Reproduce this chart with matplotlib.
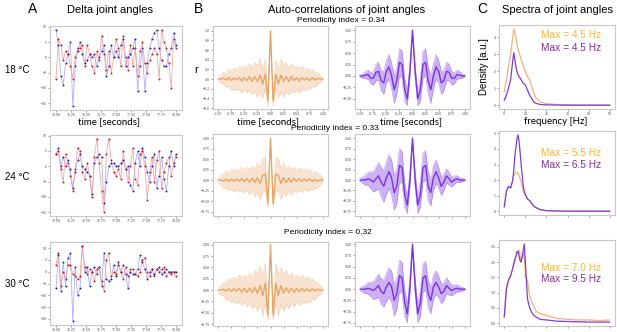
import matplotlib
matplotlib.use('Agg')
import matplotlib.pyplot as plt

# ---------------- data ----------------
temps = ["18 °C", "24 °C", "30 °C"]
periodicity = ["0.34", "0.33", "0.32"]
max_orange = ["4.5", "5.5", "7.0"]
max_purple = ["4.5", "6.5", "9.5"]

t_grid = [76.00, 76.04, 76.08, 76.12, 76.16, 76.20, 76.24, 76.28, 76.32, 76.36,
          76.40, 76.44, 76.48, 76.52, 76.56, 76.60, 76.64, 76.68, 76.72, 76.76,
          76.80, 76.84, 76.88, 76.92, 76.96, 77.00, 77.04, 77.08, 77.12, 77.16,
          77.20, 77.24, 77.28, 77.32, 77.36, 77.40, 77.44, 77.48, 77.52, 77.56,
          77.60, 77.64, 77.68, 77.72, 77.76, 77.80, 77.84, 77.88, 77.92, 77.96, 78.00]

red_18 = [-7, 6, 4, -1, 2, 1, -3, -7, 0, 3, 3, 4, -3, 4, 1, -3, -5, 2, -1, 7,
          1, -4, 2, -5, 0, 6, 3, -3, 7, 0, -4, 4, -3, 3, -6, 2, 5, -2, -5, -1,
          1, 3, 1, -7, 9, 5, 3, -2, -10, 6, 3]
blue_18 = [9, 4, -6, -9, -2, 1, 5, -16, -3, 2, 5, 1, -2, -1, 1, 0, 1, -3, 0, 2,
           4, -6, -3, 4, 0, 2, 0, 4, 6, -3, 0, 1, 3, 6, -11, -3, 3, -11, -2, 3,
           6, 8, 9, 3, -1, -3, -3, 1, 3, 8, 4]
red_24 = [4, 5, -1, -5, 4, 1, -3, -8, -1, 6, 5, -2, -4, 1, -3, -10, 3, 9, 1, -8,
          -15, 4, 9, 2, -2, -3, -1, -4, 5, -1, -5, 0, 6, -4, -6, 4, 5, 0, -11, -2,
          3, -5, 2, 5, -7, -2, 1, 3, -3, 1, 3]
blue_24 = [4, 6, 0, 3, 0, 2, -1, -7, -2, 2, 4, 0, -1, -2, -3, -9, 1, 3, 4, 3,
           -12, -5, 0, 1, 1, 0, 0, 1, 2, -1, 0, -6, -8, 1, 5, 0, 6, 3, -2, -5,
           0, 4, -7, -3, 3, -4, -8, 0, 5, 0, 4]
red_30 = [3, 8, -6, 0, -3, 3, 3, -1, -2, -3, -2, 11, 2, -1, 1, 0, -4, 1, 2, -4,
          -8, 5, 8, -2, 0, -1, 3, 0, -3, 2, -2, 1, 1, -1, -2, 0, 5, 6, 0, -2,
          1, -2, 1, 0, 1, 2, -2, 0, -1, 0, -2]
blue_30 = [-7, 7, -8, 4, -6, 6, 8, -21, 2, -10, -7, 11, 0, 2, -6, 0, 2, -1, 2, -6,
           8, -3, -4, -3, 3, -2, 4, 0, 3, -1, -7, 0, -1, -1, 1, 7, 4, 1, -3, 0,
           1, -1, 1, 2, -1, 0, 1, 0, 0, 0, 0]

lags = [-1.00, -0.95, -0.90, -0.85, -0.80, -0.75, -0.70, -0.65, -0.60, -0.55,
        -0.50, -0.45, -0.40, -0.35, -0.30, -0.25, -0.20, -0.15, -0.10, -0.05,
        0.00, 0.05, 0.10, 0.15, 0.20, 0.25, 0.30, 0.35, 0.40, 0.45,
        0.50, 0.55, 0.60, 0.65, 0.70, 0.75, 0.80, 0.85, 0.90, 0.95, 1.00]

ac_or_mean_18 = [0.0, 0.0, 0.02, -0.02, 0.03, -0.03, 0.02, -0.02, 0.03, -0.04,
                 0.03, -0.03, 0.05, -0.05, 0.05, -0.05, 0.08, -0.10, 0.10, -0.45,
                 1.0,
                 -0.45, 0.10, -0.10, 0.08, -0.05, 0.05, -0.05, 0.05, -0.03, 0.03,
                 -0.04, 0.03, -0.02, 0.02, -0.03, 0.03, -0.02, 0.02, 0.0, 0.0]
ac_or_amp_18 = [0.03, 0.08, 0.12, 0.15, 0.18, 0.2, 0.22, 0.22, 0.24, 0.25,
                0.25, 0.26, 0.28, 0.28, 0.3, 0.32, 0.35, 0.3, 0.3, 0.12,
                0.0,
                0.12, 0.3, 0.3, 0.35, 0.32, 0.3, 0.28, 0.28, 0.26, 0.25,
                0.25, 0.24, 0.22, 0.22, 0.2, 0.18, 0.15, 0.12, 0.08, 0.03]
ac_or_mean_24 = [0.0, 0.01, -0.02, 0.02, -0.03, 0.03, -0.02, 0.03, -0.03, 0.04,
                 -0.03, 0.04, -0.05, 0.05, -0.06, 0.06, -0.08, 0.12, 0.15, -0.55,
                 1.0,
                 -0.55, 0.15, 0.12, -0.08, 0.06, -0.06, 0.05, -0.05, 0.04, -0.03,
                 0.04, -0.03, 0.03, -0.02, 0.03, -0.03, 0.02, -0.02, 0.01, 0.0]
ac_or_amp_24 = [0.05, 0.12, 0.18, 0.2, 0.22, 0.24, 0.25, 0.25, 0.26, 0.27,
                0.27, 0.28, 0.3, 0.3, 0.32, 0.35, 0.38, 0.4, 0.4, 0.12,
                0.0,
                0.12, 0.4, 0.4, 0.38, 0.35, 0.32, 0.3, 0.3, 0.28, 0.27,
                0.27, 0.26, 0.25, 0.25, 0.24, 0.22, 0.2, 0.18, 0.12, 0.05]
ac_or_mean_30 = [0.0, 0.0, 0.02, -0.02, 0.03, -0.03, 0.03, -0.03, 0.04, -0.04,
                 0.04, -0.05, 0.05, -0.06, 0.06, -0.07, 0.10, -0.12, 0.15, -0.55,
                 1.0,
                 -0.55, 0.15, -0.12, 0.10, -0.07, 0.06, -0.06, 0.05, -0.05, 0.04,
                 -0.04, 0.04, -0.03, 0.03, -0.03, 0.03, -0.02, 0.02, 0.0, 0.0]
ac_or_amp_30 = [0.04, 0.1, 0.15, 0.2, 0.23, 0.25, 0.27, 0.28, 0.3, 0.3,
                0.3, 0.32, 0.33, 0.35, 0.38, 0.4, 0.42, 0.45, 0.45, 0.12,
                0.0,
                0.12, 0.45, 0.45, 0.42, 0.4, 0.38, 0.35, 0.33, 0.32, 0.3,
                0.3, 0.3, 0.28, 0.27, 0.25, 0.23, 0.2, 0.15, 0.1, 0.04]

ac_pu_mean_18 = [0.0, 0.0, 0.02, 0.03, -0.05, -0.05, 0.08, 0.1, -0.1, -0.15,
                 0.1, 0.2, 0.0, -0.3, -0.1, 0.3, 0.25, -0.3, -0.5, 0.1,
                 1.0,
                 0.1, -0.5, -0.3, 0.25, 0.3, -0.1, -0.3, 0.0, 0.2, 0.1,
                 -0.15, -0.1, 0.1, 0.08, -0.05, -0.05, 0.03, 0.02, 0.0, 0.0]
ac_pu_amp_18 = [0.02, 0.05, 0.08, 0.1, 0.12, 0.15, 0.18, 0.2, 0.22, 0.25,
                0.25, 0.27, 0.28, 0.3, 0.3, 0.3, 0.3, 0.25, 0.15, 0.15,
                0.0,
                0.15, 0.15, 0.25, 0.3, 0.3, 0.3, 0.3, 0.28, 0.27, 0.25,
                0.25, 0.22, 0.2, 0.18, 0.15, 0.12, 0.1, 0.08, 0.05, 0.02]
ac_pu_mean_24 = [0.0, 0.0, 0.0, 0.03, 0.0, -0.05, 0.03, 0.1, -0.05, -0.15,
                 0.05, 0.2, 0.05, -0.3, -0.15, 0.35, 0.3, -0.35, -0.6, 0.0,
                 1.0,
                 0.0, -0.6, -0.35, 0.3, 0.35, -0.15, -0.3, 0.05, 0.2, 0.05,
                 -0.15, -0.05, 0.1, 0.03, -0.05, 0.0, 0.03, 0.0, 0.0, 0.0]
ac_pu_amp_24 = [0.03, 0.08, 0.12, 0.16, 0.2, 0.24, 0.28, 0.32, 0.35, 0.38,
                0.4, 0.4, 0.42, 0.42, 0.42, 0.4, 0.38, 0.3, 0.2, 0.2,
                0.0,
                0.2, 0.2, 0.3, 0.35, 0.35, 0.35, 0.32, 0.3, 0.28, 0.25,
                0.22, 0.2, 0.17, 0.15, 0.12, 0.1, 0.08, 0.06, 0.04, 0.02]
ac_pu_mean_30 = [0.0, 0.0, 0.0, 0.02, 0.0, -0.03, 0.02, 0.08, -0.05, -0.1,
                 0.05, 0.15, 0.05, -0.25, -0.1, 0.3, 0.25, -0.3, -0.55, 0.05,
                 1.0,
                 0.05, -0.55, -0.3, 0.25, 0.3, -0.1, -0.25, 0.05, 0.15, 0.05,
                 -0.1, -0.05, 0.08, 0.02, -0.03, 0.0, 0.02, 0.0, 0.0, 0.0]
ac_pu_amp_30 = [0.03, 0.07, 0.1, 0.13, 0.16, 0.2, 0.23, 0.26, 0.28, 0.3,
                0.32, 0.33, 0.35, 0.35, 0.35, 0.35, 0.35, 0.3, 0.2, 0.2,
                0.0,
                0.2, 0.2, 0.3, 0.32, 0.32, 0.3, 0.3, 0.28, 0.26, 0.24,
                0.22, 0.2, 0.18, 0.15, 0.12, 0.1, 0.08, 0.06, 0.04, 0.02]

freqs = [0, 1, 2, 3, 4, 4.5, 5, 5.5, 6, 6.5, 7, 7.5, 8, 9, 9.5, 10, 11, 12, 13, 14,
         15, 17, 20, 25, 30, 35, 40, 45, 50]
sp_or_18 = [0.8, 1.5, 2.3, 3.0, 4.0, 4.5, 4.3, 4.0, 3.6, 3.3, 3.1, 2.9, 2.7, 2.3, 2.2,
            2.0, 1.7, 1.5, 1.1, 0.7, 0.45, 0.2, 0.1, 0.05, 0.03, 0.02, 0.02, 0.02, 0.02]
sp_pu_18 = [0.3, 0.6, 1.0, 1.5, 2.6, 3.1, 2.7, 2.3, 2.0, 1.8, 1.7, 1.6, 1.5, 1.3, 1.25,
            1.2, 0.9, 0.6, 0.4, 0.2, 0.12, 0.05, 0.03, 0.02, 0.01, 0.01, 0.01, 0.01, 0.01]
sp_or_24 = [0.3, 1.3, 1.6, 1.5, 2.0, 2.3, 2.4, 2.5, 2.5, 2.45, 2.3, 2.1, 1.9, 1.3, 1.1,
            1.0, 0.8, 0.7, 0.5, 0.35, 0.25, 0.12, 0.05, 0.03, 0.02, 0.02, 0.02, 0.02, 0.02]
sp_pu_24 = [0.3, 1.3, 1.6, 1.5, 2.0, 2.6, 3.5, 4.1, 4.6, 4.9, 4.5, 3.8, 3.0, 1.6, 1.3,
            1.1, 0.8, 0.7, 0.5, 0.35, 0.25, 0.12, 0.05, 0.03, 0.02, 0.02, 0.02, 0.02, 0.02]
sp_or_30 = [0.2, 1.2, 1.45, 1.55, 1.8, 1.9, 2.0, 2.15, 2.3, 2.35, 2.4, 2.2, 2.05, 2.2, 2.3,
            1.5, 1.4, 0.9, 0.7, 0.55, 0.4, 0.3, 0.25, 0.15, 0.12, 0.1, 0.1, 0.08, 0.1]
sp_pu_30 = [0.2, 1.1, 1.4, 1.55, 1.8, 1.95, 2.1, 2.2, 2.35, 2.35, 2.2, 2.05, 2.0, 2.4, 2.6,
            2.0, 0.8, 0.5, 0.35, 0.25, 0.2, 0.12, 0.1, 0.06, 0.05, 0.04, 0.03, 0.03, 0.03]

# ---------------- styling ----------------
W, H = 617, 332
plt.rcParams['font.family'] = ['Liberation Sans', 'DejaVu Sans']
fig = plt.figure(figsize=(W / 100, H / 100), dpi=100)

RED_M, RED_L = '#c01818', '#f0a8a8'
BLUE_M, BLUE_L = '#1c1cc0', '#aeb0f0'
ORANGE = '#e9a566'
PURPLE = '#7a33e6'
SP_OR = '#f3b27c'
SP_PU = '#7d3fd8'
LEG_OR = '#f5b83c'
LEG_PU = '#8c2c9f'


def ax_at(l, t, r, b):
    return fig.add_axes([l / W, 1 - b / H, (r - l) / W, (b - t) / H])


def style(ax, show_x=True):
    for s in ax.spines.values():
        s.set_color('#c8c8c8')
        s.set_linewidth(0.8)
    ax.tick_params(labelsize=2.6, length=1.5, width=0.4, colors='#555555', pad=0.8)
    if not show_x:
        ax.tick_params(axis='x', labelbottom=False)


def ftext(x, y, s, **kw):
    fig.text(x / W, 1 - y / H, s, **kw)


rowsA = [(26, 110), (135, 216), (242, 325)]
rowsB = [(26, 109), (134, 216), (242, 326)]
rowsC = [(25, 109), (131, 215), (240, 326)]

reds = [red_18, red_24, red_30]
blues = [blue_18, blue_24, blue_30]
or_means = [ac_or_mean_18, ac_or_mean_24, ac_or_mean_30]
or_amps = [ac_or_amp_18, ac_or_amp_24, ac_or_amp_30]
pu_means = [ac_pu_mean_18, ac_pu_mean_24, ac_pu_mean_30]
pu_amps = [ac_pu_amp_18, ac_pu_amp_24, ac_pu_amp_30]
sp_ors = [sp_or_18, sp_or_24, sp_or_30]
sp_pus = [sp_pu_18, sp_pu_24, sp_pu_30]

a_yticks = [[-15, -10, -5, 0, 5, 10], [-15, -10, -5, 0, 5, 10], [-20, -15, -10, -5, 0, 5, 10]]
or_ylims = [(-0.62, 1.10), (-0.85, 1.10), (-0.79, 1.06)]
or_yticks = [[-0.6, -0.4, -0.2, 0.0, 0.2, 0.4, 0.6, 0.8, 1.0],
             [-0.75, -0.5, -0.25, 0.0, 0.25, 0.5, 0.75, 1.0],
             [-0.75, -0.5, -0.25, 0.0, 0.25, 0.5, 0.75, 1.0]]
pu_ylims = [(-0.72, 1.09), (-0.86, 1.10), (-0.82, 1.05)]
pu_yticks = [[-0.5, -0.25, 0.0, 0.25, 0.5, 0.75, 1.0],
             [-0.75, -0.5, -0.25, 0.0, 0.25, 0.5, 0.75, 1.0],
             [-0.75, -0.5, -0.25, 0.0, 0.25, 0.5, 0.75, 1.0]]
c_yticks = [[0, 1, 2, 3, 4], [0, 1, 2, 3, 4, 5], [0.0, 0.5, 1.0, 1.5, 2.0, 2.5]]
lag_ticks = [-1.0, -0.75, -0.5, -0.25, 0.0, 0.25, 0.5, 0.75, 1.0]
lag_labels = ['-1.00', '-0.75', '-0.50', '-0.25', '0.00', '0.25', '0.50', '0.75', '1.00']

for i in range(3):
    # ----- A -----
    t, b = rowsA[i]
    ax = ax_at(50, t, 182, b)
    ax.plot(t_grid, blues[i], color=BLUE_L, lw=0.6, zorder=1)
    ax.plot(t_grid, reds[i], color=RED_L, lw=0.6, zorder=1)
    ax.plot(t_grid, blues[i], 'o', color=BLUE_M, ms=1.4, mew=0, zorder=3)
    ax.plot(t_grid, reds[i], 'o', color=RED_M, ms=1.4, mew=0, zorder=3)
    ax.set_xticks([76.00, 76.25, 76.50, 76.75, 77.00, 77.25, 77.50, 77.75, 78.00])
    ax.set_xticklabels(['76.00', '76.25', '76.50', '76.75', '77.00', '77.25',
                        '77.50', '77.75', '78.00'])
    ax.set_yticks(a_yticks[i])
    style(ax)

    # ----- B orange -----
    t, b = rowsB[i]
    ax = ax_at(213, t, 328, b)
    lo = [m - a for m, a in zip(or_means[i], or_amps[i])]
    hi = [m + a for m, a in zip(or_means[i], or_amps[i])]
    ax.fill_between(lags, lo, hi, color=ORANGE, alpha=0.3, lw=0)
    ax.plot(lags, lo, color=ORANGE, lw=0.3, alpha=0.6)
    ax.plot(lags, hi, color=ORANGE, lw=0.3, alpha=0.6)
    ax.plot(lags, or_means[i], color=ORANGE, lw=1.0)
    ax.set_ylim(*or_ylims[i])
    ax.set_yticks(or_yticks[i])
    ax.set_xticks(lag_ticks)
    ax.set_xticklabels(lag_labels)
    style(ax, show_x=(i == 0))

    # ----- B purple -----
    ax = ax_at(355, t, 470, b)
    lo = [m - a for m, a in zip(pu_means[i], pu_amps[i])]
    hi = [m + a for m, a in zip(pu_means[i], pu_amps[i])]
    ax.fill_between(lags, lo, hi, color=PURPLE, alpha=0.38, lw=0)
    ax.plot(lags, lo, color=PURPLE, lw=0.3, alpha=0.6)
    ax.plot(lags, hi, color=PURPLE, lw=0.3, alpha=0.6)
    ax.plot(lags, pu_means[i], color=PURPLE, lw=1.0)
    ax.set_ylim(*pu_ylims[i])
    ax.set_yticks(pu_yticks[i])
    ax.set_xticks(lag_ticks)
    ax.set_xticklabels(lag_labels)
    style(ax, show_x=(i == 0))

    # ----- C -----
    t, b = rowsC[i]
    ax = ax_at(499, t, 615, b)
    ax.plot(freqs, sp_ors[i], color=SP_OR, lw=0.9)
    ax.plot(freqs, sp_pus[i], color=SP_PU, lw=0.9)
    ax.set_xticks([0, 10, 20, 30, 40, 50])
    ax.set_yticks(c_yticks[i])
    style(ax, show_x=(i == 0))

# ---------------- text ----------------
ftext(33, 9, 'A', fontsize=10, ha='center', va='center')
ftext(110, 10, 'Delta joint angles', fontsize=8, ha='center', va='center')
ftext(198, 9, 'B', fontsize=10, ha='center', va='center')
ftext(347, 10, 'Auto-correlations of joint angles', fontsize=8, ha='center', va='center')
ftext(482, 9, 'C', fontsize=10, ha='center', va='center')
ftext(558, 10, 'Spectra of joint angles', fontsize=8, ha='center', va='center')

for y, s in zip([70, 177, 284], temps):
    ftext(17, y, s, fontsize=7, ha='center', va='center')

for (x, y), s in zip([(341, 20), (335, 129), (328, 233)], periodicity):
    ftext(x, y, 'Periodicity index = ' + s, fontsize=6, ha='center', va='center')

lbl = dict(fontsize=7, ha='center', va='center', family=['Lato', 'DejaVu Sans'])
ftext(109, 122, 'time [seconds]', **lbl)
ftext(268, 122, 'time [seconds]', **lbl)
ftext(411, 122, 'time [seconds]', **lbl)
ftext(556, 121, 'frequency [Hz]', **lbl)
ftext(196, 70, 'r', fontsize=8, ha='center', va='center')
ftext(484, 67, 'Density [a.u.]', fontsize=7, ha='center', va='center', rotation=90)

for (y1, y2), mo, mp in zip([(35, 48), (153, 165), (268, 279)], max_orange, max_purple):
    ftext(571, y1, 'Max = ' + mo + ' Hz', fontsize=7.3, color=LEG_OR, ha='center', va='center')
    ftext(571, y2, 'Max = ' + mp + ' Hz', fontsize=7.3, color=LEG_PU, ha='center', va='center')

fig.savefig('out.png', dpi=100)
